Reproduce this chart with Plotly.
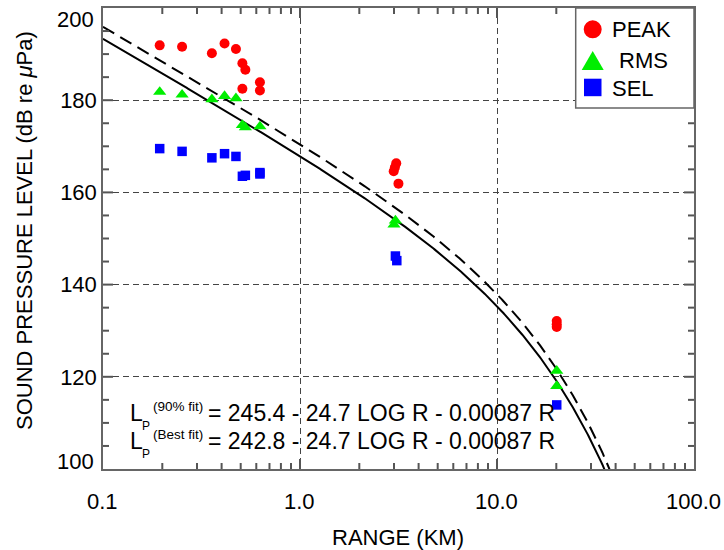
import numpy as np
import plotly.graph_objects as go

# ---- measured levels (range in km, level in dB re 1 uPa) ----
peak_range = [0.194, 0.252, 0.357, 0.414, 0.473, 0.51, 0.528, 0.51, 0.626, 0.626,
              3.08, 3.03, 2.99, 3.16, 20.1, 20.1, 20.1]
peak_spl = [191.9, 191.6, 190.2, 192.3, 191.1, 188.0, 186.6, 182.5, 183.9, 182.1,
            166.3, 165.4, 164.6, 161.9, 132.1, 131.4, 130.8]

rms_range = [0.194, 0.252, 0.357, 0.414, 0.473, 0.51, 0.528, 0.626,
             3.05, 3.0, 20.1, 20.1]
rms_spl = [181.8, 181.2, 180.2, 180.9, 180.4, 174.6, 174.1, 174.3,
           153.9, 153.0, 121.3, 118.0]

sel_range = [0.194, 0.252, 0.357, 0.414, 0.473, 0.51, 0.528, 0.626, 0.626,
             3.05, 3.1, 20.1]
sel_spl = [169.5, 168.9, 167.5, 168.4, 167.8, 163.5, 163.7, 164.3, 164.0,
           146.2, 145.2, 113.9]

# ---- transmission-loss fits: L = a - b*log10(R) - c*R, R in metres ----
fit_names = ["90% fit", "Best fit"]
fit_a = [245.4, 242.8]
fit_b = [24.7, 24.7]
fit_c = [0.00087, 0.00087]
fit_dash = ["13px,7px", "solid"]

# ---- axis ticks ----
x_range_log = [-1, 2]
y_range = [100, 200]
x_tickvals = [0.1, 1.0, 10.0, 100.0]
x_ticktext = ["0.1", "1.0", "10.0", "100.0"]
x_minor = [m * d for d in (0.1, 1.0, 10.0) for m in range(2, 10)]
y_tickvals = [120, 140, 160, 180]
y_minor = [v for v in range(105, 200, 5) if v % 20 != 0]
y_edge_labels = [200, 100]

FONT = "Liberation Sans, Arial, Helvetica, sans-serif"
AXC = "#666666"

# figure geometry (pixels) for paper-coordinate helpers
W, H = 724, 550
ML, MR, MT, MB = 103, 30, 8, 81
PW, PH = W - ML - MR, H - MT - MB


def px(x):
    return (x - ML) / PW


def py(y):
    return (MT + PH - y) / PH


def xfrac(v):
    return (np.log10(v) - x_range_log[0]) / (x_range_log[1] - x_range_log[0])


def yfrac(v):
    return (v - y_range[0]) / (y_range[1] - y_range[0])


fig = go.Figure()

r_curve = np.logspace(-1, 2, 600)
for name, a, b, c, dash in zip(fit_names, fit_a, fit_b, fit_c, fit_dash):
    r_m = r_curve * 1000.0
    level = a - b * np.log10(r_m) - c * r_m
    fig.add_trace(go.Scatter(x=r_curve, y=level, mode="lines", name=name,
                             line=dict(color="black", width=2, dash=dash),
                             showlegend=False, hoverinfo="skip"))

fig.add_trace(go.Scatter(x=peak_range, y=peak_spl, mode="markers", name="PEAK",
                         marker=dict(symbol="circle", size=10, color="#ff0000"),
                         showlegend=False))
fig.add_trace(go.Scatter(x=rms_range, y=rms_spl, mode="markers", name="RMS",
                         marker=dict(symbol="triangle-up", size=11.5, color="#00ee00"),
                         showlegend=False))
fig.add_trace(go.Scatter(x=sel_range, y=sel_spl, mode="markers", name="SEL",
                         marker=dict(symbol="square", size=9.5, color="#0000ff"),
                         showlegend=False))

axis_common = dict(
    showline=True, linecolor=AXC, linewidth=1.5, mirror=True,
    ticks="", zeroline=False, automargin=False,
    showgrid=True, gridcolor="#444444", gridwidth=1.3, griddash="6px,4px",
    tickfont=dict(family=FONT, size=22, color="black"),
)

fig.update_xaxes(
    type="log", range=x_range_log, tickmode="array",
    tickvals=x_tickvals, showticklabels=False,
    **axis_common,
)
fig.update_yaxes(
    range=y_range, tickmode="array", tickvals=y_tickvals,
    **axis_common,
)

# inward tick marks on all four sides (lengths in pixels)
shapes = []
tick_line = dict(color="#555555", width=2)
for vals, ln in ((x_minor, 6), (x_tickvals[1:-1], 10)):
    for v in vals:
        f = xfrac(v)
        h = ln / PH
        shapes.append(dict(type="line", xref="paper", yref="paper",
                           x0=f, x1=f, y0=0, y1=h, line=tick_line, layer="above"))
        shapes.append(dict(type="line", xref="paper", yref="paper",
                           x0=f, x1=f, y0=1, y1=1 - h, line=tick_line, layer="above"))
for vals, ln in ((y_minor, 6), (y_tickvals, 10)):
    for v in vals:
        f = yfrac(v)
        w = ln / PW
        shapes.append(dict(type="line", xref="paper", yref="paper",
                           y0=f, y1=f, x0=0, x1=w, line=tick_line, layer="above"))
        shapes.append(dict(type="line", xref="paper", yref="paper",
                           y0=f, y1=f, x0=1, x1=1 - w, line=tick_line, layer="above"))

annotations = []


def ann(text, x, y, size, xanchor="left", angle=0):
    annotations.append(dict(text=text, x=px(x), y=py(y), xref="paper", yref="paper",
                            xanchor=xanchor, yanchor="middle", showarrow=False,
                            textangle=angle,
                            font=dict(family=FONT, size=size, color="black")))


# x tick labels
for v, t in zip(x_tickvals, x_ticktext):
    ann(t, ML + xfrac(v) * PW - 1, 501, 22, xanchor="center")

# top and bottom y tick labels sit just inside the axis range
ann(str(y_edge_labels[0]), 96, 19.5, 22, xanchor="right")
ann(str(y_edge_labels[1]), 96, 461.5, 22, xanchor="right")

# axis titles
ann("RANGE (KM)", 398, 537, 22, xanchor="center")
ann("SOUND PRESSURE LEVEL (dB re <i>\u03bc</i>Pa)", 25, 231, 22,
    xanchor="center", angle=-90)

# fit equations
line_y = [412.5, 440.5]
for name, a, b, c, yy in zip(fit_names, fit_a, fit_b, fit_c, line_y):
    ann("L", 128, yy, 23)
    ann("P", 140, yy + 13, 12)
    ann("(" + name + ")", 151, yy - 6, 13.5)
    ann("= %.1f - %.1f LOG R - %s R" % (a, b, ("%.5f" % c)), 206, yy, 23)

# legend
legend_items = [("PEAK", 29.3, 610), ("RMS", 61, 617), ("SEL", 88, 610)]
for label, yy, xx in legend_items:
    ann(label, xx, yy, 22)

shapes += [
    dict(type="rect", xref="paper", yref="paper", x0=px(575.7), x1=1,
         y0=py(108), y1=1, line=dict(color=AXC, width=1.5),
         fillcolor="white", layer="above"),
    dict(type="circle", xref="paper", yref="paper",
         x0=px(583.7), x1=px(601.7), y0=py(38.3), y1=py(20.3),
         fillcolor="#ff0000", line=dict(width=0), layer="above"),
    dict(type="path", xref="paper", yref="paper",
         path="M %f,%f L %f,%f L %f,%f Z" % (px(581.7), py(70), px(603.7), py(70),
                                             px(592.7), py(51)),
         fillcolor="#00ee00", line=dict(width=0), layer="above"),
    dict(type="rect", xref="paper", yref="paper",
         x0=px(584), x1=px(601.5), y0=py(96.2), y1=py(78.7),
         fillcolor="#0000ff", line=dict(width=0), layer="above"),
]

fig.update_layout(
    width=W, height=H,
    margin=dict(l=ML, r=MR, t=MT, b=MB),
    paper_bgcolor="white", plot_bgcolor="white",
    annotations=annotations,
    shapes=shapes,
)

fig.write_html("out.html")
